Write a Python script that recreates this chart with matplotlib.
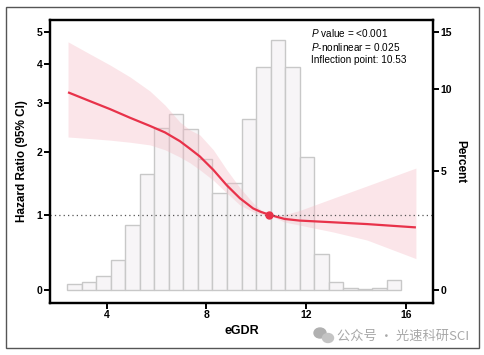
import matplotlib
matplotlib.use("Agg")
import matplotlib.pyplot as plt
from matplotlib.patches import Rectangle, Ellipse
from matplotlib.ticker import NullLocator
import numpy as np

plt.rcParams['font.family'] = ['Liberation Sans', 'DejaVu Sans']
plt.rcParams['mathtext.fontset'] = 'custom'
plt.rcParams['mathtext.it'] = 'Liberation Sans:italic'
plt.rcParams['mathtext.rm'] = 'Liberation Sans'

# histogram of eGDR (percent per bin)
bin_lo, bin_hi = 2.42, 15.82
pct = [0.23, 0.33, 0.56, 1.15, 2.57, 4.86, 7.36, 8.25, 7.34, 5.63, 3.97, 4.44,
       7.92, 11.75, 14.2, 11.75, 5.71, 1.39, 0.30, 0.10, 0.04, 0.08, 0.38]

# RCS curve: eGDR vs hazard ratio with 95% CI
egdr = [2.45, 3.33, 4.13, 4.94, 5.74, 6.34, 6.94, 7.34, 7.74, 8.28, 8.82,
        9.35, 9.88, 10.19, 10.53, 10.83, 11.14, 11.74, 13.08, 14.45, 16.41]
hr = [3.25, 3.04, 2.86, 2.67, 2.50, 2.37, 2.20, 2.06, 1.92, 1.69, 1.44,
      1.24, 1.09, 1.04, 1.0, 0.97, 0.94, 0.917, 0.893, 0.868, 0.822]
hr_up = [4.67, 4.29, 3.97, 3.64, 3.28, 2.95, 2.58, 2.42, 2.32, 2.04, 1.69,
         1.40, 1.17, 1.07, 1.0, 0.995, 1.0, 1.06, 1.24, 1.43, 1.72]
hr_lo = [2.28, 2.25, 2.22, 2.18, 2.13, 2.04, 1.91, 1.81, 1.69, 1.52, 1.32,
         1.14, 1.04, 1.0, 1.0, 0.945, 0.896, 0.854, 0.76, 0.65, 0.405]

inflection = 10.53
notes = ["$\\it{P}$ value = <0.001", "$\\it{P}$-nonlinear = 0.025",
         "Inflection point: 10.53"]

fig = plt.figure(figsize=(4.85, 3.55), dpi=100)
fig.patches.append(Rectangle((0.0124, 0.0197), 0.975, 0.9606, transform=fig.transFigure,
                             fill=False, edgecolor='#555555', lw=1.0))

ax = fig.add_axes([0.103, 0.147, 0.790, 0.797])
ax2 = ax.twinx()
ax.set_zorder(ax2.get_zorder() + 1)
ax.patch.set_visible(False)

# histogram on the percent axis
edges = np.linspace(bin_lo, bin_hi, len(pct) + 1)
ax2.bar(edges[:-1], pct, width=np.diff(edges), align='edge',
        color='#f7f5f7', edgecolor='#c8c8c8', linewidth=1.0)

# curve and band
ax.fill_between(egdr, hr_lo, hr_up, color='#f4b6c0', alpha=0.35, lw=0)
ax.plot(egdr, hr, color='#e8324a', lw=1.6, solid_capstyle='butt')
ax.axhline(1, color='#555555', lw=0.9, ls=(0, (1, 2.5)))
ax.plot([inflection], [1], 'o', color='#e8324a', ms=5)

ax.set_yscale('asinh', linear_width=2)
ax2.set_yscale('asinh', linear_width=6)
ax.set_ylim(-0.162, 5.43)
ax2.set_ylim(-0.486, 16.29)
ax.set_xlim(1.725, 17.1)

ax.set_yticks([0, 1, 2, 3, 4, 5])
ax.set_yticklabels(['0', '1', '2', '3', '4', '5'])
ax2.set_yticks([0, 5, 10, 15])
ax2.set_yticklabels(['0', '5', '10', '15'])
ax.set_xticks([4, 8, 12, 16])
ax.yaxis.set_minor_locator(NullLocator())
ax2.yaxis.set_minor_locator(NullLocator())

for a in (ax, ax2):
    for s in a.spines.values():
        s.set_linewidth(1.6)
        s.set_color('black')
    a.tick_params(width=1.4, length=4, labelsize=7.5, pad=1.5)
    for lab in a.get_xticklabels() + a.get_yticklabels():
        lab.set_fontweight('bold')

ax.set_xlabel('eGDR', fontsize=9, fontweight='bold', labelpad=3)
ax.set_ylabel('Hazard Ratio (95% CI)', fontsize=8.5, fontweight='bold', labelpad=6)
ax2.set_ylabel('Percent', fontsize=8.5, fontweight='bold', rotation=-90, labelpad=10)

for i, t in enumerate(notes):
    fig.text(311 / 485, 1 - (33 + 13.7 * i) / 355, t, fontsize=7.2,
             va='center', ha='left')

# watermark
fig.patches.append(Ellipse((320 / 485, 1 - 333 / 355), 12 / 485, 10 / 355,
                           transform=fig.transFigure, color='#b0b0b0'))
fig.patches.append(Ellipse((328 / 485, 1 - 338 / 355), 11 / 485, 9 / 355,
                           transform=fig.transFigure, color='#c4c4c4'))
fig.text(337 / 485, 1 - 336 / 355, '公众号 · 光速科研SCI', fontsize=9.5,
         color='#a8a8a8', va='center', ha='left',
         family=['Noto Sans CJK SC', 'DejaVu Sans'])

fig.savefig('out.png', dpi=100)
